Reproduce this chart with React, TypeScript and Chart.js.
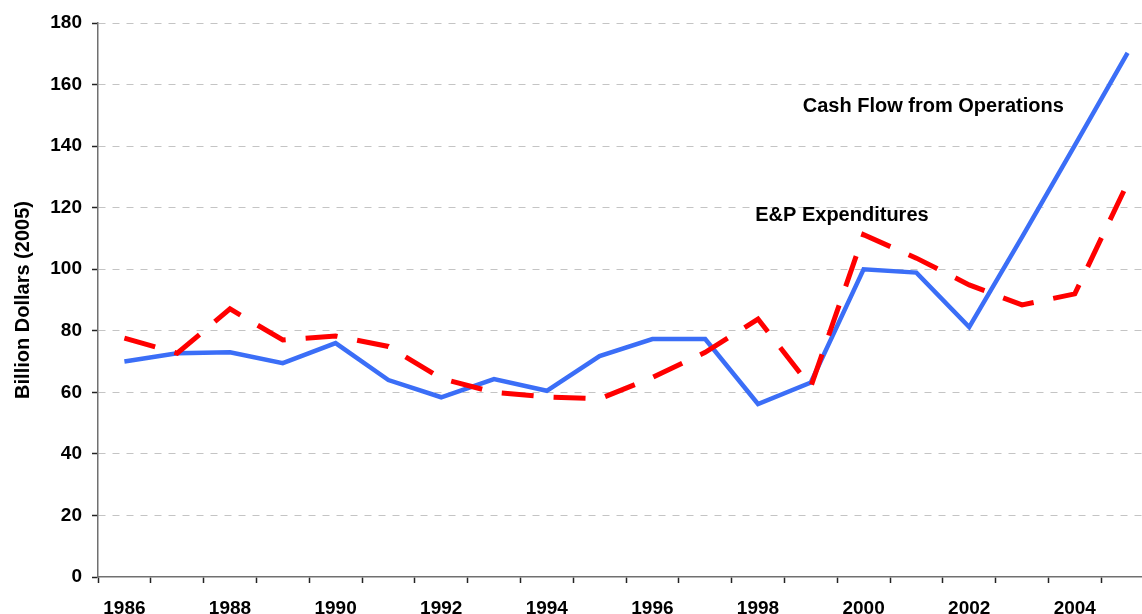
import React, { useEffect, useRef } from "react";
import { Chart, registerables } from "chart.js";

Chart.register(...registerables);

const years = [
  "1986", "1987", "1988", "1989", "1990", "1991", "1992", "1993", "1994", "1995",
  "1996", "1997", "1998", "1999", "2000", "2001", "2002", "2003", "2004", "2005",
];

const cashFlow = [
  70.0, 72.7, 73.0, 69.5, 76.0, 64.0, 58.4, 64.3, 60.5, 71.8,
  77.3, 77.3, 56.2, 63.2, 100.0, 98.9, 81.2, 110.4, 140.2, 170.3,
];

const expenditures = [
  77.6, 72.7, 87.1, 77.0, 78.3, 74.9, 64.5, 60.0, 58.5, 57.9,
  64.8, 73.0, 83.8, 61.8, 111.2, 103.6, 94.9, 88.4, 92.0, 128.0,
];

const yTicks = [0, 20, 40, 60, 80, 100, 120, 140, 160, 180];

const seriesNames = ["E&P Expenditures", "Cash Flow from Operations"];

// annotation anchors in data units: [category position, value]
const annotations = [
  { text: "Cash Flow from Operations", x: 15.32, y: 153 },
  { text: "E&P Expenditures", x: 13.59, y: 117.4 },
];

const FONT = "'Liberation Sans', Arial, Helvetica, sans-serif";

const annotationPlugin = {
  id: "seriesLabels",
  afterDatasetsDraw(chart: any) {
    const { ctx, scales } = chart;
    ctx.save();
    ctx.font = `bold 20px ${FONT}`;
    ctx.fillStyle = "#000";
    ctx.textAlign = "center";
    ctx.textBaseline = "middle";
    for (const a of annotations) {
      const px = scales.x.getPixelForValue(a.x);
      const py = scales.y.getPixelForValue(a.y);
      ctx.fillText(a.text, px, py);
    }
    ctx.restore();
  },
};

export default function App() {
  const ref = useRef<HTMLCanvasElement | null>(null);

  useEffect(() => {
    if (!ref.current) return;
    const chart = new Chart(ref.current, {
      type: "line",
      data: {
        labels: years,
        datasets: [
          {
            label: seriesNames[0],
            data: expenditures,
            borderColor: "#ff0000",
            borderWidth: 5,
            borderDash: [32, 20],
            borderCapStyle: "butt",
            pointRadius: 0,
            tension: 0,
            fill: false,
          },
          {
            label: seriesNames[1],
            data: cashFlow,
            borderColor: "#3b6ef7",
            borderWidth: 4.5,
            pointRadius: 0,
            tension: 0,
            fill: false,
          },
        ],
      },
      options: {
        responsive: false,
        animation: false,
        events: [],
        layout: { padding: { top: 23, right: 26, left: 0, bottom: 0 } },
        plugins: {
          legend: { display: false },
          tooltip: { enabled: false },
          title: { display: false },
        },
        scales: {
          x: {
            type: "category",
            offset: true,
            grid: {
              offset: true,
              drawOnChartArea: false,
              drawTicks: true,
              tickLength: 6,
              tickColor: "#222",
              tickWidth: 1.5,
            },
            border: { display: true, color: "#707070", width: 1.5 },
            ticks: {
              autoSkip: false,
              maxRotation: 0,
              minRotation: 0,
              padding: 14,
              color: "#000",
              font: { family: FONT, size: 19, weight: "bold" },
              callback: (_v: any, i: number) => (i % 2 === 0 ? years[i] : ""),
            },
            afterFit: (s: any) => {
              s.height = 63;
            },
          },
          y: {
            min: 0,
            max: 180,
            afterBuildTicks: (s: any) => {
              s.ticks = yTicks.map((v) => ({ value: v }));
            },
            grid: {
              color: (c: any) => (c.tick && c.tick.value === 0 ? "rgba(0,0,0,0)" : "#c4c4c4"),
              lineWidth: 1,
              drawTicks: true,
              tickLength: 6,
              tickColor: "#222",
              tickWidth: 1.5,
              tickBorderDash: [],
            },
            border: { display: true, color: "#707070", width: 1.5, dash: [7, 7] },
            ticks: {
              padding: 10,
              color: "#000",
              font: { family: FONT, size: 19, weight: "bold" },
            },
            title: {
              display: true,
              text: "Billion Dollars (2005)",
              color: "#000",
              font: { family: FONT, size: 20, weight: "bold" },
              padding: { top: 11, bottom: 0 },
            },
            afterFit: (s: any) => {
              s.width = 98;
            },
          },
        },
      },
      plugins: [annotationPlugin],
    });
    return () => chart.destroy();
  }, []);

  return (
    <div
      style={{
        position: "fixed",
        left: 0,
        top: 0,
        width: 1142,
        height: 614,
        overflow: "hidden",
        background: "#fff",
      }}
    >
      <canvas ref={ref} width={1180} height={640} style={{ display: "block", width: 1180, height: 640 }} />
    </div>
  );
}
